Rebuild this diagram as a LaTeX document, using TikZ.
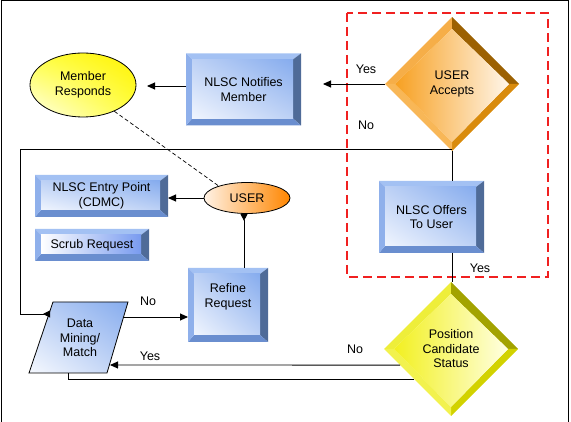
\documentclass[tikz,border=0pt]{standalone}
\usepackage{fontspec}
\setmainfont{Liberation Sans}
\usetikzlibrary{shapes.geometric,arrows.meta,calc,shadings}
\definecolor{bfA}{HTML}{86ACEE}
\definecolor{bfB}{HTML}{F0F5FE}
\definecolor{bfC}{HTML}{BDD1F5}
\definecolor{bevT}{HTML}{A3C1F3}
\definecolor{bevL}{HTML}{8FB0EB}
\definecolor{bevR}{HTML}{4F6B98}
\definecolor{bevB}{HTML}{6A8ECF}
\definecolor{orA}{HTML}{F7A021}
\definecolor{orM}{HTML}{FAC57C}
\definecolor{orB}{HTML}{FFF6EA}
\definecolor{orTL}{HTML}{F6AE48}
\definecolor{orTR}{HTML}{9C6102}
\definecolor{orBR}{HTML}{D98B0C}
\definecolor{orBL}{HTML}{F8B757}
\definecolor{yeA}{HTML}{F2F020}
\definecolor{yeM}{HTML}{F8F870}
\definecolor{yeB}{HTML}{FFFFE2}
\definecolor{yeTL}{HTML}{EEEE3A}
\definecolor{yeTR}{HTML}{A3A300}
\definecolor{yeBR}{HTML}{D2D200}
\definecolor{yeBL}{HTML}{F2F24E}
\definecolor{redd}{HTML}{F02020}
\newcommand\boxbev[1]{%
  \path (path picture bounding box.north west) coordinate (bNW)
        (path picture bounding box.north east) coordinate (bNE)
        (path picture bounding box.south east) coordinate (bSE)
        (path picture bounding box.south west) coordinate (bSW);
  \path ([xshift=6pt,yshift=-6pt]bNW) coordinate (bnw)
        ([xshift=-8pt,yshift=-6pt]bNE) coordinate (bne)
        ([xshift=-8pt,yshift=7pt]bSE) coordinate (bse)
        ([xshift=6pt,yshift=7pt]bSW) coordinate (bsw);
  \fill[bevT] (bNW)--(bNE)--(bne)--(bnw)--cycle;
  \fill[bevR] (bNE)--(bSE)--(bse)--(bne)--cycle;
  \fill[bevB] (bSE)--(bSW)--(bsw)--(bse)--cycle;
  \fill[bevL] (bSW)--(bNW)--(bnw)--(bsw)--cycle;
  \shade[#1] (bnw) rectangle (bse);
}
\newcommand\diabev[7]{%
  \path (path picture bounding box.north) coordinate (dT)
        (path picture bounding box.east) coordinate (dR)
        (path picture bounding box.south) coordinate (dB)
        (path picture bounding box.west) coordinate (dL);
  \path ([yshift=-12pt]dT) coordinate (iT)
        ([xshift=-10pt]dR) coordinate (iR)
        ([yshift=9pt]dB) coordinate (iB)
        ([xshift=10pt]dL) coordinate (iL);
  \fill[#4] (dL)--(dT)--(iT)--(iL)--cycle;
  \fill[#5] (dT)--(dR)--(iR)--(iT)--cycle;
  \fill[#6] (dR)--(dB)--(iB)--(iR)--cycle;
  \fill[#7] (dB)--(dL)--(iL)--(iB)--cycle;
  \shade[left color=#1,middle color=#2,right color=#3] (iT)--(iR)--(iB)--(iL)--cycle;
}
\begin{document}
\begin{tikzpicture}[x=1pt,y=-1pt,
  font=\fontsize{12.5}{14.5}\selectfont,
  bev/.style={rectangle, inner sep=0pt, outer sep=0pt, align=center,
    path picture={\boxbev{upper right=bfA, lower left=bfB, upper left=bfC, lower right=bfC}}},
  bevlr/.style={rectangle, inner sep=0pt, outer sep=0pt, align=center,
    path picture={\boxbev{left color=white, right color=bfA!90!blue}}},
  orangedia/.style={diamond, aspect=1, inner sep=0pt, outer sep=0pt, align=center,
    minimum width=134pt, minimum height=134pt,
    path picture={\diabev{orA}{orM}{orB}{orTL}{orTR}{orBR}{orBL}}},
  yellowdia/.style={diamond, aspect=1, inner sep=0pt, outer sep=0pt, align=center,
    minimum width=134pt, minimum height=134pt,
    path picture={\diabev{yeA}{yeM}{yeB}{yeTL}{yeTR}{yeBR}{yeBL}}},
  conn/.style={draw=black, line width=0.9pt},
  tip/.style={-{Triangle[length=8pt,width=7pt]}},
  rtip/.style={-{Triangle[length=7pt,width=7pt,reversed]}},
  lbl/.style={inner sep=0pt},
  txt/.style={inner sep=0pt, align=center}]
\useasboundingbox (0,0) rectangle (571,422);
% frame
\draw[line width=1pt] (1,423) -- (1,1) -- (568,1) -- (568,423);
% red dashed group
\draw[redd, line width=2pt, dash pattern=on 9pt off 5pt] (347,13) rectangle (548,277);

% shapes
\node[orangedia] (accepts) at (452,84) {USER\\Accepts};
\node[yellowdia] (status) at (451,349) {Position\\Candidate\\Status};
\node[bev, minimum width=115pt, minimum height=72pt] (notify) at (243.5,89.5) {NLSC Notifies\\Member};
\node[bev, minimum width=105pt, minimum height=72pt] (offers) at (431.5,217) {NLSC Offers\\To User};
\node[bev, minimum width=80pt, minimum height=74pt] (refine) at (228,305) {};
\node[txt] (refinetext) at (228,297) {Refine\\Request};
\node[bev, minimum width=133pt, minimum height=42pt] (entry) at (101.5,196) {NLSC Entry Point\\(CDMC)};
\node[bevlr, minimum width=114pt, minimum height=32pt] (scrub) at (92,245) {Scrub Request};
\node[ellipse, draw=black, line width=0.8pt, inner sep=0pt, minimum width=106pt, minimum height=64pt,
  upper right=yellow!90!orange, lower left=yellow!8, upper left=yellow!75, lower right=yellow!75,
  align=center] (member) at (83,85) {Member\\Responds};
\node[ellipse, draw=black, line width=0.8pt, inner sep=0pt, minimum width=86pt, minimum height=31pt,
  left color=orange!10, right color=orange!95!yellow] (user) at (247,198) {USER};
% parallelogram
\coordinate (pTL) at (53,302);
\coordinate (pTR) at (128,302);
\coordinate (pBR) at (107,373);
\coordinate (pBL) at (29,373);
\shade[upper right=bfA, lower left=bfB!60!white, upper left=bfC, lower right=bfC] (pTL)--(pTR)--(pBR)--(pBL)--cycle;
\draw[line width=0.8pt] (pTL)--(pTR)--(pBR)--(pBL)--cycle;
\node[txt] (datamine) at (80,338) {Data\\Mining/\\Match};

% connector points
\coordinate (yesend) at (323,84);
\coordinate (notend) at (147,86);
\coordinate (nojoin) at (452,149);
\coordinate (nocornerA) at (20,149);
\coordinate (nocornerB) at (20,314);
\coordinate (dmleft) at (50,314);
\coordinate (dmright) at (110,365);
\coordinate (dmbottom) at (68,373);
\coordinate (dmright2) at (124,317);

% connectors
\draw[conn,tip] (accepts.west) -- (yesend);
\draw[conn,tip] (notify.west |- notend) -- (notend);
\draw[conn] (accepts.south) -- (offers.north -| accepts.south);
\draw[conn,rtip] (nojoin) -- (nocornerA) -- (nocornerB) -- (dmleft);
\draw[conn] (offers.south -| accepts.south) -- (status.north -| accepts.south);
\draw[conn,tip] ($(status.west)!0.24!(status.south)$) -- (dmright);
\draw[conn] ($(status.west)!0.45!(status.south)$) -| (dmbottom);
\draw[conn,tip] (dmright2) -- (refine.west |- dmright2);
\draw[conn,rtip] (refine.north -| 244,0) -- (user.south -| 244,0);
\draw[conn,tip] (user.west) -- (entry.east |- user.west);
\draw[line width=0.7pt, dash pattern=on 4pt off 2.5pt] (member.-40) -- (user.157);

% labels
\node[lbl] (l1) at (366,69) {Yes};
\node[lbl] (l2) at (366,125) {No};
\node[lbl] (l3) at (480,268) {Yes};
\node[lbl] (l4) at (148,301) {No};
\node[lbl] (l5) at (150,356) {Yes};
\node[lbl] (l6) at (355,349) {No};
\end{tikzpicture}
\end{document}
